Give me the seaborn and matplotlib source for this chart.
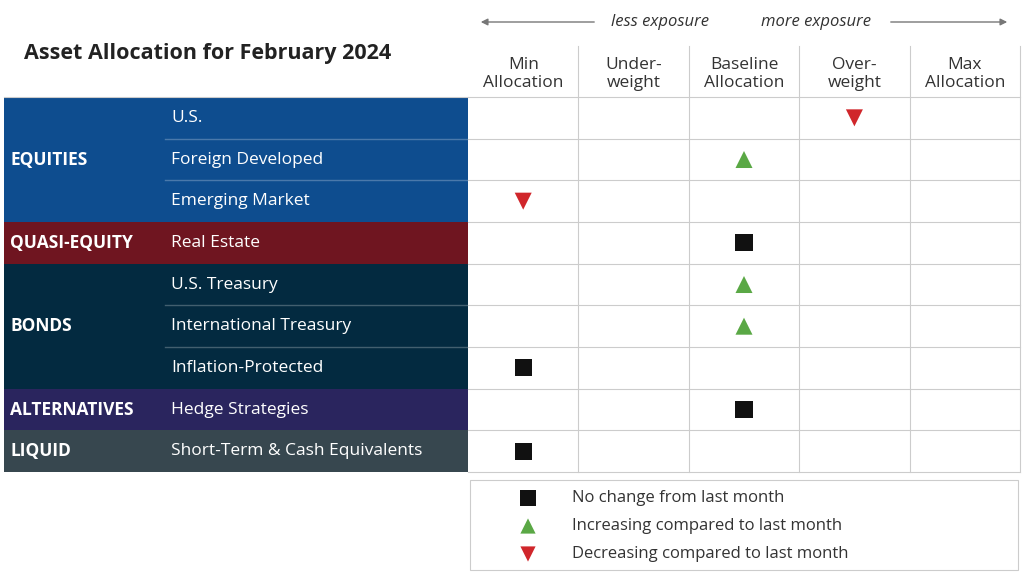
import matplotlib.pyplot as plt
import matplotlib.patches as mpatches
import seaborn as sns
import pandas as pd

# data
groups = ["EQUITIES", "QUASI-EQUITY", "BONDS", "ALTERNATIVES", "LIQUID"]
group_sizes = [3, 1, 3, 1, 1]
group_colors = ["#0e4d8f", "#6f1520", "#032a40", "#2a255e", "#37474f"]
assets = ["U.S.", "Foreign Developed", "Emerging Market", "Real Estate", "U.S. Treasury",
          "International Treasury", "Inflation-Protected", "Hedge Strategies",
          "Short-Term & Cash Equivalents"]
levels = ["Min\nAllocation", "Under-\nweight", "Baseline\nAllocation", "Over-\nweight", "Max\nAllocation"]
position = [3, 2, 0, 2, 2, 2, 0, 2, 0]
change = ["down", "up", "down", "same", "up", "up", "same", "same", "same"]
change_labels = {"same": "No change from last month",
                 "up": "Increasing compared to last month",
                 "down": "Decreasing compared to last month"}

markers = {"same": "s", "up": "^", "down": "v"}
colors = {"same": "#111111", "up": "#5aa845", "down": "#d0262b"}
font = "Open Sans"
plt.rcParams["font.family"] = font

W, H = 1025, 579
fig = plt.figure(figsize=(W / 100, H / 100), dpi=100)
bg = fig.add_axes([0, 0, 1, 1])
bg.set_xlim(0, W)
bg.set_ylim(H, 0)
bg.axis("off")

top, rh = 97, 41.67
gx0, gx1 = 468, 1020
cw = (gx1 - gx0) / 5
bottom = top + rh * len(assets)

bg.text(24, 54, "Asset Allocation for February 2024", fontsize=15.5, fontweight="bold",
        color="#222222", va="center")
bg.annotate("", xy=(478, 22), xytext=(597, 22),
            arrowprops=dict(arrowstyle="-|>", color="#777777", lw=1, mutation_scale=10))
bg.annotate("", xy=(1010, 22), xytext=(888, 22),
            arrowprops=dict(arrowstyle="-|>", color="#777777", lw=1, mutation_scale=10))
bg.text(660, 22, "less exposure", style="italic", fontsize=12, color="#333333", ha="center", va="center")
bg.text(816, 22, "more exposure", style="italic", fontsize=12, color="#333333", ha="center", va="center")
for i, lv in enumerate(levels):
    bg.text(gx0 + cw * (i + 0.5), 74, lv, fontsize=12.5, color="#333333", ha="center",
            va="center", linespacing=1.1)
for i in range(1, 5):
    bg.plot([gx0 + cw * i] * 2, [46, bottom], color="#cccccc", lw=0.8)
bg.plot([gx1] * 2, [46, bottom], color="#cccccc", lw=0.8)

# left bands
r = 0
for g, n, c in zip(groups, group_sizes, group_colors):
    y0 = top + r * rh
    bg.add_patch(mpatches.Rectangle((4, y0), gx0 - 4, n * rh, color=c, lw=0))
    bg.text(10, y0 + n * rh / 2, g, fontsize=12.5, fontweight="bold", color="white", va="center")
    for k in range(n):
        bg.text(171, y0 + (k + 0.5) * rh, assets[r + k], fontsize=12.5, color="white", va="center")
        if k > 0:
            bg.plot([165, gx0], [y0 + k * rh] * 2, color="white", alpha=0.25, lw=1)
    r += n
for k in range(len(assets) + 1):
    bg.plot([gx0, gx1], [top + k * rh] * 2, color="#cccccc", lw=0.8)
bg.plot([4, gx0], [top, top], color="#cccccc", lw=0.8)

# grid markers
ga = fig.add_axes([gx0 / W, 1 - bottom / H, (gx1 - gx0) / W, (bottom - top) / H])
ga.set_xlim(-0.5, 4.5)
ga.set_ylim(len(assets) - 0.5, -0.5)
ga.axis("off")
df = pd.DataFrame({"col": position, "row": range(len(assets)), "change": change})
sns.scatterplot(data=df, x="col", y="row", hue="change", style="change", markers=markers,
                palette=colors, s=150, edgecolor="none", legend=False, ax=ga)

# legend box
bg.add_patch(mpatches.Rectangle((470, 480), 548, 90, fill=False, ec="#cccccc", lw=0.8))
la = fig.add_axes([470 / W, 1 - 570 / H, 548 / W, 90 / H])
la.set_xlim(0, 548)
la.set_ylim(90, 0)
la.axis("off")
ldf = pd.DataFrame({"x": [58, 58, 58], "y": [18, 46, 74], "change": ["same", "up", "down"]})
sns.scatterplot(data=ldf, x="x", y="y", hue="change", style="change", markers=markers,
                palette=colors, s=120, edgecolor="none", legend=False, ax=la)
for _, row in ldf.iterrows():
    la.text(102, row["y"], change_labels[row["change"]], fontsize=12, color="#333333", va="center")

fig.savefig("out.png", dpi=100)
